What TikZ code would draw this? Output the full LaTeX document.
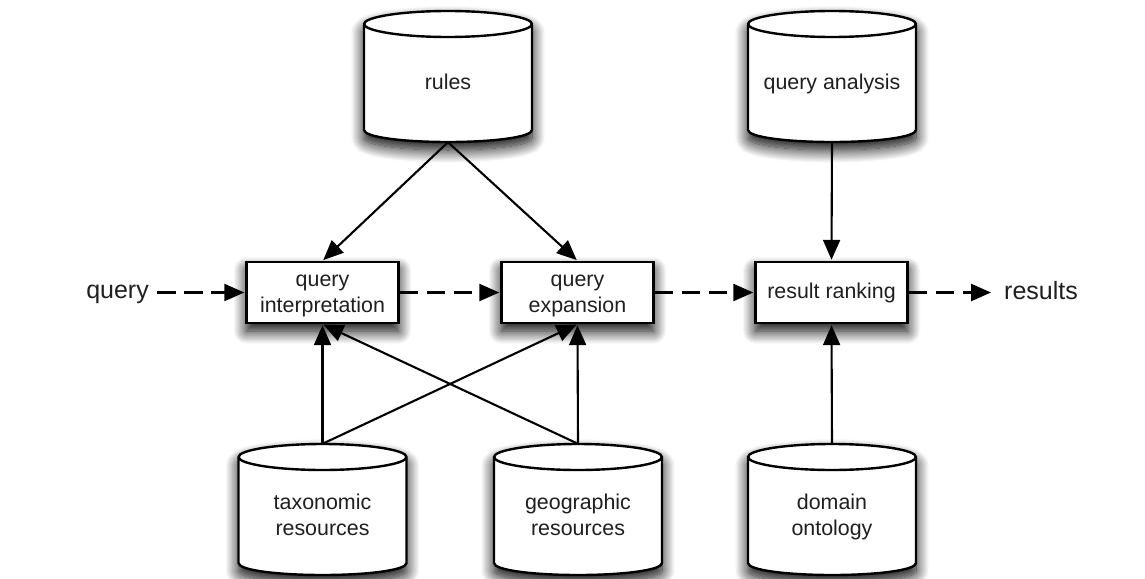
\documentclass[tikz,border=0pt]{standalone}
\usepackage{fontspec}
\setmainfont{Liberation Sans}
\usetikzlibrary{arrows.meta,shadows.blur}
\definecolor{inkc}{gray}{0.12}
\tikzset{
  softshadow/.style={blur shadow={shadow xshift=0pt,shadow yshift=-8pt,shadow blur radius=13pt,shadow blur steps=16,shadow opacity=100}},
  procbox/.style={draw=black,line width=2.4pt,fill=white,minimum width=152pt,minimum height=61pt,inner sep=0pt,softshadow},
  storeshape/.style={draw=black,line width=2.4pt,fill=white,softshadow},
  storeframe/.style={inner sep=0pt,minimum width=167pt,minimum height=131pt},
  lbl/.style={text=inkc,inner sep=0pt,align=center,font=\fontsize{21.4}{26}\selectfont},
  endlabel/.style={text=inkc,inner sep=0pt,font=\fontsize{25}{30}\selectfont},
  solidarrow/.style={line width=2.1pt,-{Triangle[length=20pt,width=17pt]},shorten >=1pt},
  dasharrow/.style={line width=2.4pt,dash pattern=on 18.5pt off 8.5pt,-{Triangle[length=20pt,width=17pt]},shorten >=1pt}
}
\newcommand{\dbcyl}[4]{%
  \begin{scope}[shift={(#2,#3)}]
    \path[storeshape] (-84,13) .. controls (-84,6) and (-46,0) .. (0,0)
      .. controls (46,0) and (84,6) .. (84,13) -- (84,119)
      .. controls (84,126) and (46,131) .. (0,131)
      .. controls (-46,131) and (-84,126) .. (-84,119) -- cycle;
    \draw[draw=black,line width=2.4pt] (-84,13) .. controls (-84,20) and (-46,26) .. (0,26)
      .. controls (46,26) and (84,20) .. (84,13);
    \node[storeframe] (#1) at (0,65.5) {};
    \node[lbl] (#1-text) at (0,73.5) {#4};
  \end{scope}}
\begin{document}
\begin{tikzpicture}[x=1pt,y=-1pt]
\useasboundingbox (0,0) rectangle (1145,578);
\dbcyl{rules}{448}{11}{\strut rules}
\dbcyl{analysis}{832}{11}{\strut query analysis}
\dbcyl{tax}{322.5}{444}{\strut taxonomic\\\strut resources}
\dbcyl{geo}{578}{444}{\strut geographic\\\strut resources}
\dbcyl{onto}{832}{444}{\strut domain\\\strut ontology}
\node[procbox] (interp) at (322.5,292.5) {};
\node[procbox] (expand) at (577.5,292.5) {};
\node[procbox] (rank) at (831.5,292.5) {};
\node[lbl] (interp-text) at (322.5,294) {\strut query\\\strut interpretation};
\node[lbl] (expand-text) at (577.5,294) {\strut query\\\strut expansion};
\node[lbl] (rank-text) at (831.5,293) {\strut result ranking};
\node[endlabel,anchor=east] (q) at (149,294) {query};
\node[endlabel,anchor=west] (r) at (1004,291) {results};
\coordinate (qstart) at (157,292.5);
\coordinate (rend) at (992,292.5);
\draw[solidarrow] (rules.south) -- (interp.north);
\draw[solidarrow] (rules.south) -- (expand.north);
\draw[solidarrow] (analysis.south) -- (rank.north);
\draw[solidarrow] (tax.north) -- (interp.south);
\draw[solidarrow] (tax.north) -- (expand.south);
\draw[solidarrow] (geo.north) -- (interp.south);
\draw[solidarrow] (geo.north) -- (expand.south);
\draw[solidarrow] (onto.north) -- (rank.south);
\draw[dasharrow] (qstart) -- (interp.west);
\draw[dasharrow] (interp.east) -- (expand.west);
\draw[dasharrow] (expand.east) -- (rank.west);
\draw[dasharrow] (rank.east) -- (rend);
\end{tikzpicture}
\end{document}
